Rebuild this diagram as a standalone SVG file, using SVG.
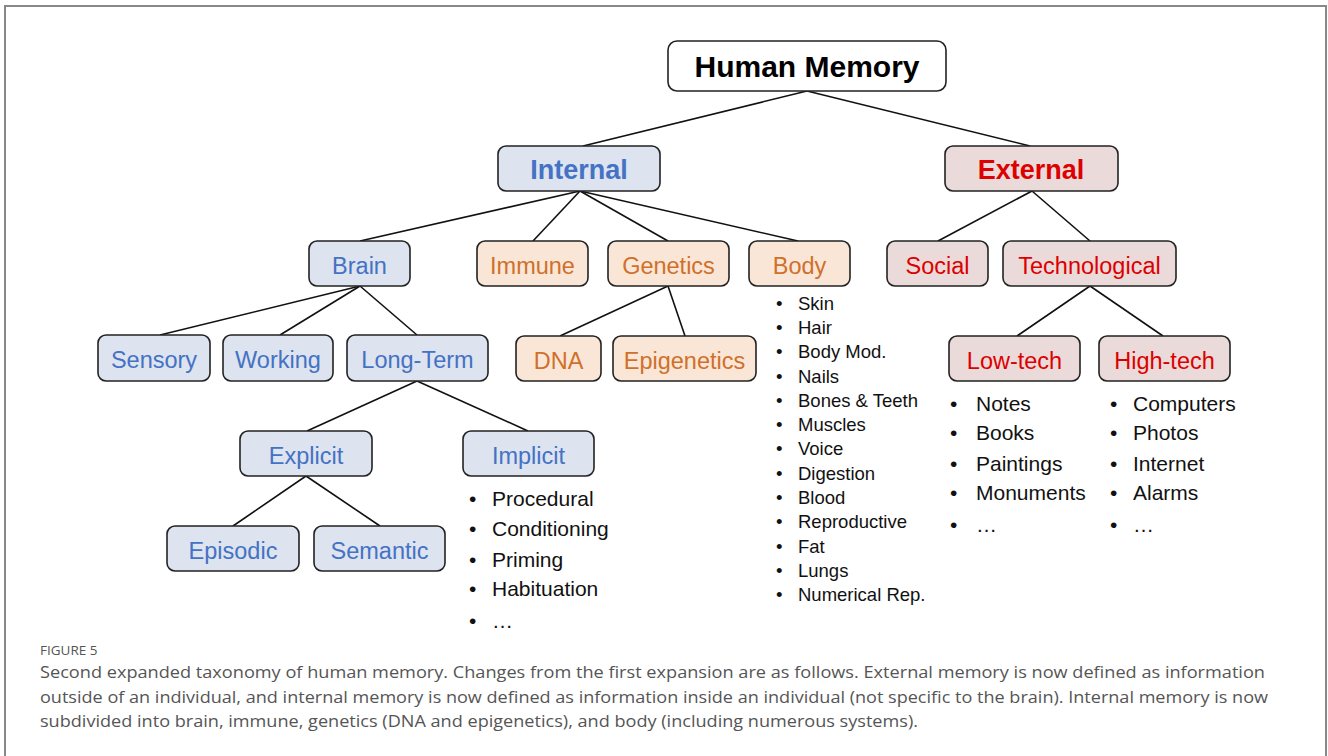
<svg xmlns="http://www.w3.org/2000/svg" width="1328" height="756" viewBox="0 0 1328 756">
<style>
.b{fill:#dde3ef;stroke:#222;stroke-width:1.6}
.o{fill:#f9e6d7;stroke:#222;stroke-width:1.6}
.r{fill:#eadada;stroke:#222;stroke-width:1.6}
.w{fill:#fff;stroke:#222;stroke-width:1.6}
.t{font-family:"Liberation Sans",Arial,sans-serif;font-size:23.5px;text-anchor:middle}
.tb{fill:#4472c4}.to{fill:#d0702a}.tr{fill:#dd0000}
.bold{font-weight:bold;font-size:27px}
.li{font-family:"Liberation Sans",Arial,sans-serif;fill:#111}
.cap{font-family:"Open Sans","Noto Sans",sans-serif;fill:#555;font-size:16.5px}
#edges line{stroke:#111;stroke-width:1.6}
</style>
<rect x="5" y="6" width="1321" height="760" fill="#fff" stroke="#888" stroke-width="2"/>
<g id="edges">
<line x1="807" y1="91" x2="583" y2="146"/>
<line x1="807" y1="91" x2="1030" y2="146"/>
<line x1="580" y1="191" x2="360" y2="241"/>
<line x1="580" y1="191" x2="533" y2="241"/>
<line x1="580" y1="191" x2="668" y2="241"/>
<line x1="580" y1="191" x2="798" y2="241"/>
<line x1="360" y1="286" x2="160" y2="335"/>
<line x1="360" y1="286" x2="280" y2="335"/>
<line x1="360" y1="286" x2="417" y2="335"/>
<line x1="1032" y1="191" x2="938" y2="241"/>
<line x1="1032" y1="191" x2="1090" y2="241"/>
<line x1="1090" y1="286" x2="1017" y2="336"/>
<line x1="1090" y1="286" x2="1163" y2="336"/>
<line x1="668" y1="286" x2="560" y2="336"/>
<line x1="668" y1="286" x2="685" y2="336"/>
<line x1="417" y1="381" x2="307" y2="431"/>
<line x1="417" y1="381" x2="528" y2="431"/>
<line x1="306" y1="476" x2="233" y2="526"/>
<line x1="306" y1="476" x2="380" y2="526"/>
</g>
<g id="human-memory"><rect class="w" x="668" y="41" width="278" height="50" rx="9"/><text class="t bold" x="807" y="77" style="font-size:30px;fill:#000">Human Memory</text></g>
<g id="internal"><rect class="b" x="498" y="146" width="162" height="45" rx="8"/><text class="t bold tb" x="579" y="179">Internal</text></g>
<g id="external"><rect class="r" x="945" y="146" width="173" height="45" rx="8"/><text class="t bold tr" x="1031" y="179">External</text></g>
<g id="brain"><rect class="b" x="309" y="241" width="101" height="45" rx="8"/><text class="t tb" x="359.5" y="274">Brain</text></g>
<g id="immune"><rect class="o" x="477" y="241" width="111" height="45" rx="8"/><text class="t to" x="532.5" y="274">Immune</text></g>
<g id="genetics"><rect class="o" x="608" y="241" width="121" height="45" rx="8"/><text class="t to" x="668.5" y="274">Genetics</text></g>
<g id="body"><rect class="o" x="749" y="241" width="101" height="45" rx="8"/><text class="t to" x="799.5" y="274">Body</text></g>
<g id="social"><rect class="r" x="887" y="241" width="101" height="45" rx="8"/><text class="t tr" x="937.5" y="274">Social</text></g>
<g id="technological"><rect class="r" x="1003" y="241" width="173" height="45" rx="8"/><text class="t tr" x="1089.5" y="274">Technological</text></g>
<g id="sensory"><rect class="b" x="98" y="335" width="112" height="46" rx="8"/><text class="t tb" x="154" y="368">Sensory</text></g>
<g id="working"><rect class="b" x="223" y="335" width="110" height="46" rx="8"/><text class="t tb" x="278" y="368">Working</text></g>
<g id="long-term"><rect class="b" x="347" y="335" width="141" height="46" rx="8"/><text class="t tb" x="417.5" y="368">Long-Term</text></g>
<g id="dna"><rect class="o" x="516" y="336" width="85" height="45" rx="8"/><text class="t to" x="558.5" y="369">DNA</text></g>
<g id="epigenetics"><rect class="o" x="613" y="336" width="143" height="45" rx="8"/><text class="t to" x="684.5" y="369">Epigenetics</text></g>
<g id="low-tech"><rect class="r" x="949" y="336" width="131" height="45" rx="8"/><text class="t tr" x="1014.5" y="369">Low-tech</text></g>
<g id="high-tech"><rect class="r" x="1099" y="336" width="131" height="45" rx="8"/><text class="t tr" x="1164.5" y="369">High-tech</text></g>
<g id="explicit"><rect class="b" x="240" y="431" width="132" height="45" rx="8"/><text class="t tb" x="306" y="464">Explicit</text></g>
<g id="implicit"><rect class="b" x="463" y="431" width="131" height="45" rx="8"/><text class="t tb" x="528.5" y="464">Implicit</text></g>
<g id="episodic"><rect class="b" x="167" y="526" width="132" height="45" rx="8"/><text class="t tb" x="233" y="559">Episodic</text></g>
<g id="semantic"><rect class="b" x="314" y="526" width="131" height="45" rx="8"/><text class="t tb" x="379.5" y="559">Semantic</text></g>
<g id="body-list" class="li" style="font-size:18.5px">
<text x="776" y="310">•</text><text x="798" y="310">Skin</text>
<text x="776" y="334">•</text><text x="798" y="334">Hair</text>
<text x="776" y="358">•</text><text x="798" y="358">Body Mod.</text>
<text x="776" y="383">•</text><text x="798" y="383">Nails</text>
<text x="776" y="407">•</text><text x="798" y="407">Bones &amp; Teeth</text>
<text x="776" y="431">•</text><text x="798" y="431">Muscles</text>
<text x="776" y="455">•</text><text x="798" y="455">Voice</text>
<text x="776" y="480">•</text><text x="798" y="480">Digestion</text>
<text x="776" y="504">•</text><text x="798" y="504">Blood</text>
<text x="776" y="528">•</text><text x="798" y="528">Reproductive</text>
<text x="776" y="553">•</text><text x="798" y="553">Fat</text>
<text x="776" y="577">•</text><text x="798" y="577">Lungs</text>
<text x="776" y="601">•</text><text x="798" y="601">Numerical Rep.</text>
</g>
<g id="implicit-list" class="li" style="font-size:21px">
<text x="469" y="506">•</text><text x="492" y="506">Procedural</text>
<text x="469" y="536">•</text><text x="492" y="536">Conditioning</text>
<text x="469" y="567">•</text><text x="492" y="567">Priming</text>
<text x="469" y="596">•</text><text x="492" y="596">Habituation</text>
<text x="469" y="628">•</text><text x="492" y="628">…</text>
</g>
<g id="lowtech-list" class="li" style="font-size:21px">
<text x="950" y="411">•</text><text x="976" y="411">Notes</text>
<text x="950" y="440">•</text><text x="976" y="440">Books</text>
<text x="950" y="471">•</text><text x="976" y="471">Paintings</text>
<text x="950" y="500">•</text><text x="976" y="500">Monuments</text>
<text x="950" y="532">•</text><text x="976" y="532">…</text>
</g>
<g id="hightech-list" class="li" style="font-size:21px">
<text x="1110" y="411">•</text><text x="1133" y="411">Computers</text>
<text x="1110" y="440">•</text><text x="1133" y="440">Photos</text>
<text x="1110" y="471">•</text><text x="1133" y="471">Internet</text>
<text x="1110" y="500">•</text><text x="1133" y="500">Alarms</text>
<text x="1110" y="532">•</text><text x="1133" y="532">…</text>
</g>
<g id="caption">
<text class="cap" x="40" y="655" style="font-size:13.5px">FIGURE 5</text>
<text class="cap" x="40" y="678" textLength="1225" lengthAdjust="spacingAndGlyphs">Second expanded taxonomy of human memory. Changes from the first expansion are as follows. External memory is now defined as information</text>
<text class="cap" x="40" y="703" textLength="1228" lengthAdjust="spacingAndGlyphs">outside of an individual, and internal memory is now defined as information inside an individual (not specific to the brain). Internal memory is now</text>
<text class="cap" x="40" y="727" textLength="878" lengthAdjust="spacingAndGlyphs">subdivided into brain, immune, genetics (DNA and epigenetics), and body (including numerous systems).</text>
</g>
</svg>
